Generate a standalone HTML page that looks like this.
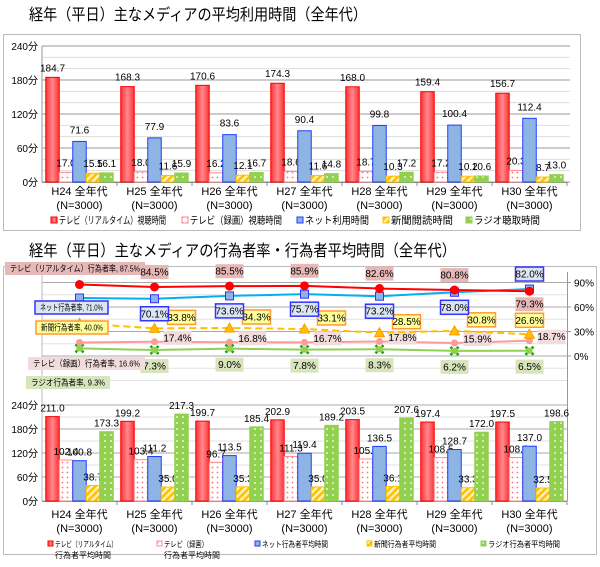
<!DOCTYPE html>
<html><head><meta charset="utf-8">
<style>
html,body{margin:0;padding:0;background:#fff;}
svg{display:block;font-family:"Liberation Sans","Noto Sans CJK JP",sans-serif;}
</style></head>
<body>
<svg id="chart" width="600" height="567" viewBox="0 0 600 567" xmlns="http://www.w3.org/2000/svg">
<defs>
<pattern id="dotsPink" width="5" height="5" patternUnits="userSpaceOnUse"><rect width="5" height="5" fill="#fff"/><circle cx="2.5" cy="2.5" r="0.9" fill="#ff6f7a"/></pattern>
<pattern id="dotsGreen" width="6" height="6" patternUnits="userSpaceOnUse"><rect width="6" height="6" fill="#92d050"/><circle cx="3" cy="3" r="0.9" fill="#fff"/></pattern>
<pattern id="stripes" width="5" height="5" patternUnits="userSpaceOnUse" patternTransform="rotate(45)"><rect width="5" height="5" fill="#fff4c0"/><rect width="2.6" height="5" fill="#ffc000"/></pattern>
<linearGradient id="redGrad" x1="0" x2="1" y1="0" y2="0"><stop offset="0" stop-color="#ff3030"/><stop offset="0.5" stop-color="#ff8a90"/><stop offset="1" stop-color="#ff3030"/></linearGradient>
</defs>
<text x="29" y="20" font-size="16" textLength="338" lengthAdjust="spacingAndGlyphs" fill="#000">経年（平日）主なメディアの平均利用時間（全年代）</text>
<rect x="3.5" y="34.5" width="577" height="196" fill="#fff" stroke="#bbb"/>
<text x="29" y="256" font-size="16" textLength="427" lengthAdjust="spacingAndGlyphs" fill="#000">経年（平日）主なメディアの行為者率・行為者平均時間（全年代）</text>
<rect x="3.5" y="266.5" width="593" height="288" fill="#fff" stroke="#bbb"/>
<g id="g"></g>
</svg>
<script>
const categories=["H24","H25","H26","H27","H28","H29","H30"];
const topTickLabels=["0分","60分","120分","180分","240分"];
const topTickValues=[0,60,120,180,240];
const useRealtime=[184.7,168.3,170.6,174.3,168.0,159.4,156.7];
const useRecorded=[17.0,18.0,16.2,18.6,18.7,17.2,20.3];
const useNet=[71.6,77.9,83.6,90.4,99.8,100.4,112.4];
const useNews=[15.5,11.6,12.1,11.6,10.3,10.2,8.7];
const useRadio=[16.1,15.9,16.7,14.8,17.2,10.6,13.0];
const rateRealtime=[87.5,84.5,85.5,85.9,82.6,80.8,79.3];
const rateNet=[71.0,70.1,73.6,75.7,73.2,78.0,82.0];
const rateNews=[40.0,33.8,34.3,33.1,28.5,30.8,26.6];
const rateRecorded=[16.6,17.4,16.8,16.7,17.8,15.9,18.7];
const rateRadio=[9.3,7.3,9.0,7.8,8.3,6.2,6.5];
const rateTickValues=[0,30,60,90];
const rateTickLabels=["0%","30%","60%","90%"];
const actRealtime=[211.0,199.2,199.7,202.9,203.5,197.4,197.5];
const actRecorded=[102.4,103.4,96.7,111.3,105.1,108.5,108.8];
const actNet=[100.8,111.2,113.5,119.4,136.5,128.7,137.0];
const actNews=[38.7,35.0,35.3,35.0,36.1,33.3,32.5];
const actRadio=[173.3,217.3,185.4,189.2,207.6,172.0,198.6];

const NS="http://www.w3.org/2000/svg";
const G=document.getElementById('g');
function mk(tag,attrs,parent){const e=document.createElementNS(NS,tag);for(const k in attrs)e.setAttribute(k,attrs[k]);(parent||G).appendChild(e);return e;}
function txt(s,attrs,parent){const e=mk('text',attrs,parent);e.textContent=s;return e;}
const X0=42,X1=567,GW=(X1-X0)/categories.length;
function xc(i){return X0+GW*(i+0.5);}
function yTop(v){return 182-v*136/240;}
function yBot(v){return 501-v*96/240;}
function yRate(v){return 356-v*24.5/30;}
const BW=13.5;
const barStyles=[
 {fill:"url(#redGrad)",stroke:"#ff0000"},
 {fill:"url(#dotsPink)",stroke:"#ff8c94"},
 {fill:"#8db4e2",stroke:"#1f3cff"},
 {fill:"url(#stripes)",stroke:"#ffc000"},
 {fill:"url(#dotsGreen)",stroke:"#92d050"}];
const barNames=["realtime","recorded","net","news","radio"];

// ---------- top chart ----------
for(let v=0;v<=240;v+=20){
  const l=mk('line',{x1:X0,x2:X1+3,y1:yTop(v),y2:yTop(v),stroke:v%60===0?'#999':'#ddd','stroke-width':1});
  
  
}
topTickValues.forEach((v,i)=>{
  const t=txt(topTickLabels[i],{x:38,y:yTop(v)+4,'font-size':10,'text-anchor':'end',fill:'#000'});
  
  
});
mk('line',{x1:X0,x2:X0,y1:yTop(240),y2:yTop(0),stroke:'#999'});
mk('line',{x1:X0,x2:X1,y1:yTop(0)+0.5,y2:yTop(0)+0.5,stroke:'#888'});
const topSeries=[useRealtime,useRecorded,useNet,useNews,useRadio];
categories.forEach((c,i)=>{
  topSeries.forEach((s,k)=>{
    const x=xc(i)+(k-2.5)*BW;
    const r=mk('rect',{x:x,y:yTop(s[i]),width:BW,height:yTop(0)-yTop(s[i]),fill:barStyles[k].fill,stroke:barStyles[k].stroke,'stroke-width':1});
    
    
    const t=txt(s[i].toFixed(1),{x:x+BW/2,y:yTop(s[i])-(k===0?6:k===2?8:6),'font-size':10,'text-anchor':'middle',fill:'#000'});
    
    
  });
  mk('line',{x1:X0+GW*(i+1),x2:X0+GW*(i+1),y1:yTop(0),y2:yTop(0)+4,stroke:'#888'});
  const t1=txt(c+" 全年代",{x:xc(i),y:195,'font-size':11,'text-anchor':'middle',fill:'#000'});
  
  
  const t2=txt("(N=3000)",{x:xc(i),y:209,'font-size':11,'text-anchor':'middle',fill:'#000'});
  
  
});
const topLegend=[["テレビ（リアルタイム）視聴時間",51,107],["テレビ（録画）視聴時間",182,92],["ネット利用時間",297,64],["新聞閲読時間",383,62],["ラジオ聴取時間",466,66]];
topLegend.forEach((lg,k)=>{
  const g=mk('g',{});
  
  
  mk('rect',{x:lg[1],y:217,width:6,height:6,fill:barStyles[k].fill,stroke:barStyles[k].stroke},g);
  txt(lg[0],{x:lg[1]+8,y:224,'font-size':10,fill:'#000',textLength:lg[2],lengthAdjust:'spacingAndGlyphs'},g);
});

// ---------- line chart ----------
for(let v=-30;v<=90;v+=15){
  const l=mk('line',{x1:X0,x2:X1,y1:yRate(v),y2:yRate(v),stroke:v%30===0&&v>=0?'#aaa':'#e2e2e2'});
  
  
}
mk('line',{x1:X1+0.5,x2:X1+0.5,y1:272,y2:yBot(0),stroke:'#999'});
mk('line',{x1:X0,x2:X0,y1:272,y2:yBot(0),stroke:'#bbb'});
rateTickValues.forEach((v,i)=>{
  mk('line',{x1:X1,x2:X1+4,y1:yRate(v),y2:yRate(v),stroke:'#999'});
  const t=txt(rateTickLabels[i],{x:574,y:yRate(v)+4,'font-size':10,fill:'#000'});
  
  
});
const lineSeries=[
 {d:rateRadio,c:'#92d050',m:'x',name:'radio',lab:'ラジオ行為者率, ',box:[26,376,84],bg:'#d8e4bc',bd:'#d8e4bc',off:(i)=>[0,16]},
 {d:rateRecorded,c:'#ff9a9a',m:'dia',name:'recorded',lab:'テレビ（録画）行為者率, ',box:[28,357,117],bg:'#f2dcdb',bd:'#f2dcdb',off:(i)=>[i===6?22:23,-4]},
 {d:rateNews,c:'#ffc000',m:'tri',name:'news',lab:'新聞行為者率, ',box:[36,321,72],bg:'#ffff99',bd:'#ff9933',off:(i)=>i===6?[0,-14]:[27,-11],dash:'7,4'},
 {d:rateNet,c:'#00b0f0',m:'sq',name:'net',lab:'ネット行為者率, ',box:[35,301,73],bg:'#dce6f2',bd:'#3333ff',off:(i)=>i===6?[0,-15]:[0,15]},
 {d:rateRealtime,c:'#ff0000',m:'circ',name:'realtime',lab:'テレビ（リアルタイム）行為者率, ',box:[5,262,140],bg:'#e6b9b8',bd:'#e6b9b8',off:(i)=>i===6?[0,13]:[0,-15]}
];
lineSeries.forEach(s=>{
  const pts=s.d.map((v,i)=>xc(i)+','+yRate(v)).join(' ');
  const pl=mk('polyline',{points:pts,fill:'none',stroke:s.c,'stroke-width':2,'stroke-dasharray':s.dash||'none'});
  
  
  s.d.forEach((v,i)=>{
    const x=xc(i),y=yRate(v);let m;
    if(s.m==='circ')m=mk('circle',{cx:x,cy:y,r:4.5,fill:'#ff0000'});
    else if(s.m==='sq')m=mk('rect',{x:x-4,y:y-4,width:8,height:8,fill:'#8db4e2',stroke:'#3333ff'});
    else if(s.m==='tri')m=mk('polygon',{points:`${x},${y-5} ${x-5},${y+4} ${x+5},${y+4}`,fill:'#ffc000',stroke:'#ff9900'});
    else if(s.m==='dia')m=mk('circle',{cx:x,cy:y,r:3.5,fill:'#ff9a9a'});
    else {m=mk('path',{d:`M${x-4},${y-4}L${x+4},${y+4}M${x+4},${y-4}L${x-4},${y+4}`,stroke:'#00a000','stroke-width':2.5});mk('rect',{x:x-3,y:y-3,width:6,height:6,fill:'#92d050'});}
    
    
    if(i===0){
      const b=mk('rect',{x:s.box[0],y:s.box[1],width:s.box[2],height:13,fill:s.bg,stroke:s.bd,'stroke-width':s.bd===s.bg?0:1.5});
      
      
      const t=txt(s.lab+v.toFixed(1)+'%',{x:s.box[0]+5,y:s.box[1]+9.5,'font-size':8.5,fill:'#000',textLength:s.box[2]-10,lengthAdjust:'spacingAndGlyphs'});
      
      
    } else {
      const o=s.off(i);const lx=x+o[0],ly=y+o[1];
      const b=mk('rect',{x:lx-14,y:ly-7,width:28,height:14,fill:s.bg,stroke:s.bd,'stroke-width':s.bd===s.bg?0:1.5});
      
      
      const t=txt(v.toFixed(1)+'%',{x:lx,y:ly+3.5,'font-size':10,'text-anchor':'middle',fill:'#000'});
      
      
    }
  });
});

// ---------- bottom bar chart ----------
for(let v=0;v<=240;v+=30){
  const l=mk('line',{x1:X0,x2:X1,y1:yBot(v),y2:yBot(v),stroke:v%60===0?'#aaa':'#e2e2e2'});
  
  
}
topTickValues.forEach((v,i)=>{
  const t=txt(topTickLabels[i],{x:38,y:yBot(v)+4,'font-size':10,'text-anchor':'end',fill:'#000'});
  
  
});
mk('line',{x1:X0,x2:X1,y1:yBot(0)+0.5,y2:yBot(0)+0.5,stroke:'#888'});
const botSeries=[actRealtime,actRecorded,actNet,actNews,actRadio];
categories.forEach((c,i)=>{
  botSeries.forEach((s,k)=>{
    const x=xc(i)+(k-2.5)*BW;
    const r=mk('rect',{x:x,y:yBot(s[i]),width:BW,height:yBot(0)-yBot(s[i]),fill:barStyles[k].fill,stroke:barStyles[k].stroke,'stroke-width':1});
    
    
    const t=txt(s[i].toFixed(1),{x:x+BW/2,y:yBot(s[i])-5,'font-size':10,'text-anchor':'middle',fill:'#000'});
    
    
  });
  mk('line',{x1:X0+GW*(i+1),x2:X0+GW*(i+1),y1:yBot(0),y2:yBot(0)+4,stroke:'#888'});
  const t1=txt(c+" 全年代",{x:xc(i),y:518,'font-size':11,'text-anchor':'middle',fill:'#000'});
  
  
  const t2=txt("(N=3000)",{x:xc(i),y:532,'font-size':11,'text-anchor':'middle',fill:'#000'});
  
  
});
const botLegend=[["テレビ（リアルタイム）","行為者平均時間",48,62],["テレビ（録画）","行為者平均時間",157,44],["ネット行為者平均時間","",255,66],["新聞行為者平均時間","",367,62],["ラジオ行為者平均時間","",481,72]];
botLegend.forEach((lg,k)=>{
  const g=mk('g',{});
  
  
  mk('rect',{x:lg[2],y:541,width:5,height:5,fill:barStyles[k].fill,stroke:barStyles[k].stroke},g);
  txt(lg[0],{x:lg[2]+7,y:547,'font-size':8,fill:'#000',textLength:lg[3],lengthAdjust:'spacingAndGlyphs'},g);
  if(lg[1])txt(lg[1],{x:lg[2]+7,y:558,'font-size':8,fill:'#000'},g);
});
</script>
</body></html>
